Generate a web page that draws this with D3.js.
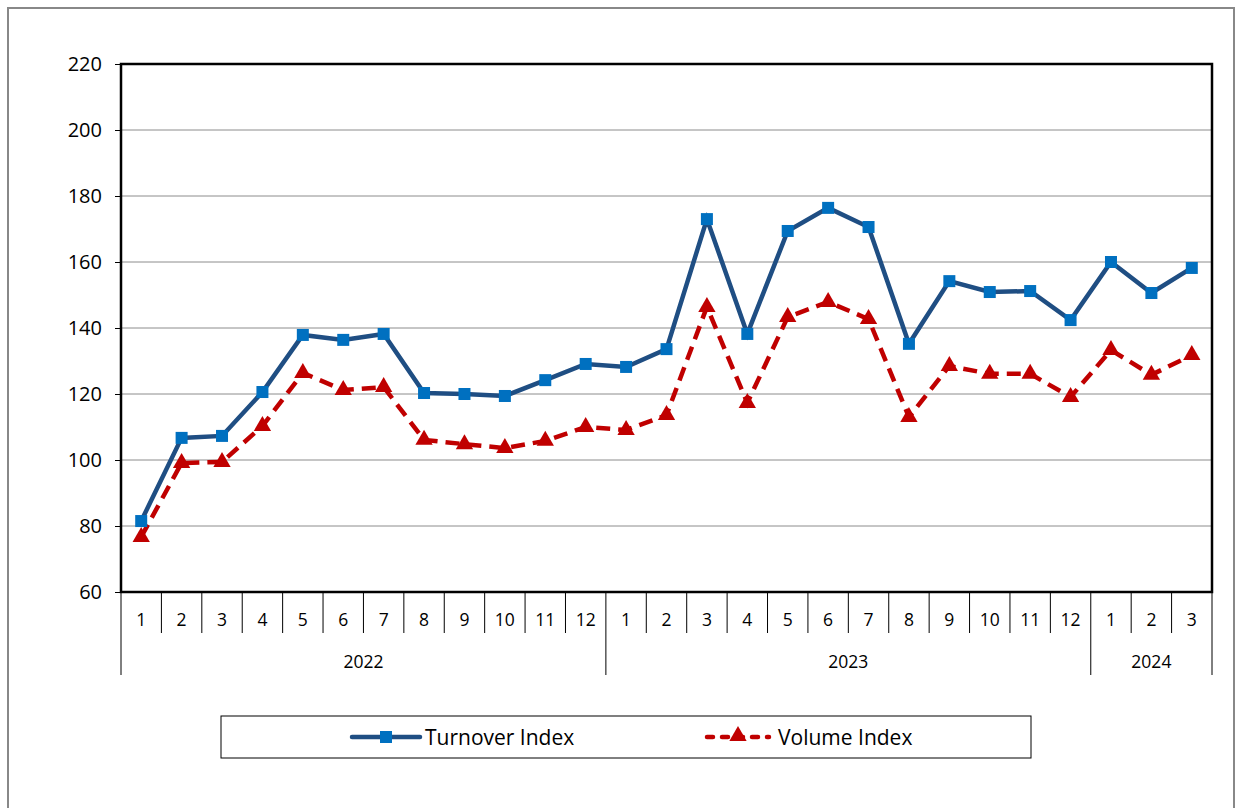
<!DOCTYPE html>
<html><head><meta charset="utf-8">
<script src="https://cdn.jsdelivr.net/npm/d3@7"></script>
<style>body{margin:0;background:#fff}svg{display:block;font-family:"Open Sans",Lato,sans-serif}</style>
</head><body><svg id="c" width="1236" height="808"></svg>
<script>
const months = ["1","2","3","4","5","6","7","8","9","10","11","12","1","2","3","4","5","6","7","8","9","10","11","12","1","2","3"];
const years = [{label:"2022",n:12},{label:"2023",n:12},{label:"2024",n:3}];
const turnover = [81.5,106.7,107.3,120.6,137.9,136.4,138.2,120.3,120.0,119.4,124.2,129.1,128.2,133.6,173.0,138.2,169.4,176.4,170.6,135.2,154.2,150.9,151.2,142.4,160.0,150.6,158.2];
const volume = [76.7,99.1,99.4,110.3,126.4,121.2,122.1,106.1,104.8,103.6,105.8,110.0,109.1,113.6,146.4,117.3,143.3,147.9,142.7,113.0,128.5,126.1,126.1,119.1,133.3,125.8,131.8];
const yTicks = [60,80,100,120,140,160,180,200,220];
const seriesNames = ["Turnover Index","Volume Index"];

const svg = d3.select("#c");
const L=121,R=1212,T=64,B=592;
const idx = d3.range(months.length);
const x = d3.scaleBand().domain(idx).range([L,R]);
const y = d3.scaleLinear().domain([60,220]).range([B,T]);

svg.append("path").attr("d",`M8,808 V8 H1234 V808`).attr("fill","none").attr("stroke","#888").attr("stroke-width",2);

svg.append("g").selectAll("line").data(yTicks.slice(1,-1)).join("line")
  .attr("x1",L).attr("x2",R).attr("y1",d=>y(d)).attr("y2",d=>y(d)).attr("stroke","#8c8c8c").attr("stroke-width",1);

const ya = svg.append("g").attr("transform",`translate(${L},0)`)
  .call(d3.axisLeft(y).tickValues(yTicks).tickSize(6).tickPadding(13).tickFormat(d3.format("d")));
ya.select(".domain").remove();
ya.selectAll("line").attr("stroke","#000");
ya.selectAll("text").attr("font-size",20).attr("fill","#000").attr("font-family","'Open Sans',sans-serif");

svg.append("rect").attr("x",L).attr("y",T).attr("width",R-L).attr("height",B-T).attr("fill","none").attr("stroke","#000").attr("stroke-width",2.5);

const xg = svg.append("g");
xg.selectAll("line.m").data(d3.range(months.length+1)).join("line").attr("class","m")
  .attr("x1",i=>L+i*x.bandwidth()).attr("x2",i=>L+i*x.bandwidth()).attr("y1",B).attr("y2",633).attr("stroke","#000").attr("stroke-width",1);
xg.selectAll("text.m").data(idx).join("text").attr("class","m")
  .attr("x",i=>x(i)+x.bandwidth()/2).attr("y",626).attr("text-anchor","middle").attr("font-size",17.5).text(i=>months[i]);
let acc=0;
const yb = years.map(yv=>{const s=acc; acc+=yv.n; return {label:yv.label,s:s,e:acc};});
xg.selectAll("line.y").data([0,...yb.map(d=>d.e)]).join("line").attr("class","y")
  .attr("x1",i=>L+i*x.bandwidth()).attr("x2",i=>L+i*x.bandwidth()).attr("y1",633).attr("y2",675).attr("stroke","#000").attr("stroke-width",1);
xg.selectAll("text.y").data(yb).join("text").attr("class","y")
  .attr("x",d=>L+(d.s+d.e)/2*x.bandwidth()).attr("y",668).attr("text-anchor","middle").attr("font-size",17.5).text(d=>d.label);

const cx = i=>x(i)+x.bandwidth()/2;
const line = d3.line().x((d,i)=>cx(i)).y(d=>y(d));

svg.append("path").datum(volume).attr("d",line).attr("fill","none").attr("stroke","#c00000").attr("stroke-width",4.5).attr("stroke-dasharray","14,8");
const tri = d3.symbol().type(d3.symbolTriangle).size(130);
svg.append("g").selectAll("path").data(volume).join("path").attr("d",tri).attr("transform",(d,i)=>`translate(${cx(i)},${y(d)})`).attr("fill","#c00000");

svg.append("path").datum(turnover).attr("d",line).attr("fill","none").attr("stroke","#1f4e83").attr("stroke-width",4.5);
svg.append("g").selectAll("rect").data(turnover).join("rect").attr("x",(d,i)=>cx(i)-6).attr("y",d=>y(d)-6).attr("width",12).attr("height",12).attr("fill","#0070c0");

const lg = svg.append("g");
lg.append("rect").attr("x",221).attr("y",716).attr("width",810).attr("height",42).attr("fill","#fff").attr("stroke","#000").attr("stroke-width",1);
lg.append("line").attr("x1",352).attr("x2",420).attr("y1",737).attr("y2",737).attr("stroke","#1f4e83").attr("stroke-width",4.5).attr("stroke-linecap","round");
lg.append("rect").attr("x",380).attr("y",731).attr("width",12).attr("height",12).attr("fill","#0070c0");
lg.append("text").attr("x",425).attr("y",745).attr("font-size",21).text(seriesNames[0]);
lg.append("line").attr("x1",707).attr("x2",769).attr("y1",737).attr("y2",737).attr("stroke","#c00000").attr("stroke-width",4.5).attr("stroke-linecap","round").attr("stroke-dasharray","6,9");
lg.append("path").attr("d",tri).attr("transform","translate(738,736)").attr("fill","#c00000");
lg.append("text").attr("x",778).attr("y",745).attr("font-size",21).text(seriesNames[1]);
</script></body></html>
